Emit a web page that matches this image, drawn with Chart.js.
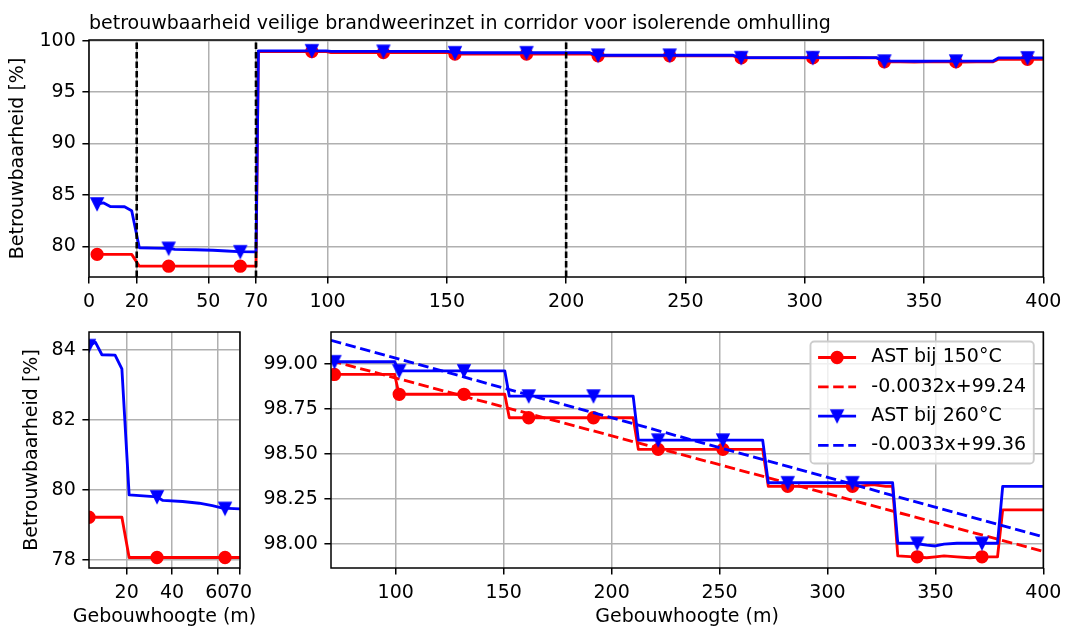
<!DOCTYPE html>
<html lang="nl">
<head>
<meta charset="utf-8">
<title>Betrouwbaarheid brandweerinzet</title>
<script src="https://cdn.jsdelivr.net/npm/chart.js@4.4.1/dist/chart.umd.min.js"></script>
<style>
  html, body { margin: 0; padding: 0; background: #fff; }
  #figuur { position: relative; width: 1068px; height: 628px; overflow: hidden; }
  #figuur canvas { position: absolute; }
</style>
</head>
<body>
<div id="figuur">
  <canvas id="overzicht" width="1068" height="320" style="left:0px;top:0px"></canvas>
  <canvas id="laagbouw" width="270" height="318" style="left:0px;top:310px"></canvas>
  <canvas id="hoogbouw" width="818" height="318" style="left:250px;top:310px"></canvas>
</div>
<script>
// Betrouwbaarheid (%) per gebouwhoogte (m), tot 70 m
const hoogteLaag = [3.4, 6.2, 9.1, 14.9, 17.9, 21.1, 27.3, 33.4, 36.0, 44.7, 52.0, 57.8, 62.3, 70.0];
const ast150Laag = [79.22, 79.22, 79.22, 79.22, 79.22, 78.07, 78.07, 78.07, 78.07, 78.07, 78.07, 78.07, 78.07, 78.07];
const ast260Laag = [84.12, 84.22, 83.86, 83.85, 83.46, 79.86, 79.83, 79.80, 79.70, 79.67, 79.62, 79.55, 79.48, 79.46];

// vanaf 70 m
const hoogteHoog = [71.0, 99.5, 101.5, 150.5, 152.6, 210.0, 212.4, 270.0, 272.6, 314.0, 321.0, 327.0, 330.2, 332.6,
                    340.0, 346.0, 350.0, 354.0, 360.0, 366.0, 372.0, 378.8, 381.2, 400.0];
const ast150Hoog = [98.94, 98.94, 98.83, 98.83, 98.70, 98.70, 98.525, 98.525, 98.32, 98.32, 98.33, 98.32, 98.32, 97.935,
                    97.93, 97.925, 97.93, 97.935, 97.93, 97.925, 97.93, 97.93, 98.19, 98.19];
const ast260Hoog = [99.01, 99.01, 98.96, 98.96, 98.82, 98.82, 98.576, 98.576, 98.34, 98.34, 98.34, 98.34, 98.34, 98.005,
                    98.005, 97.995, 97.99, 98.0, 98.005, 98.005, 98.005, 98.005, 98.32, 98.32];

// markers om de 30 m
const markerHoogte = [3.4, 33.4, 63.4, 93.4, 123.4, 153.4, 183.4, 213.4, 243.4, 273.4, 303.4, 333.4, 363.4, 393.4];
const markerAst150 = [79.22, 78.07, 78.07, 98.94, 98.83, 98.70, 98.70, 98.525, 98.525, 98.32, 98.32, 97.935, 97.93, 98.19];
const markerAst260 = [84.12, 79.80, 79.47, 99.01, 98.96, 98.82, 98.82, 98.576, 98.576, 98.34, 98.34, 98.005, 98.005, 98.32];
const markerHoogteDetail = [71.6, 101.6, 131.6, 161.6, 191.6, 221.6, 251.6, 281.6, 311.6, 341.6, 371.6];
const markerAst150Detail = [98.94, 98.83, 98.83, 98.70, 98.70, 98.525, 98.525, 98.32, 98.32, 97.93, 97.93];
const markerAst260Detail = [99.01, 98.96, 98.96, 98.82, 98.82, 98.576, 98.576, 98.34, 98.34, 98.005, 98.005];

// lineaire trend vanaf 70 m: [150°C, 260°C]
const trendHelling = [-0.0032, -0.0033];
const trendSnijpunt = [99.24, 99.36];
const trendBereik = [70, 400];

// grenzen gebouwhoogte
const grenzen = [20, 70, 200];

const ticksOverzichtX = [0, 20, 50, 70, 100, 150, 200, 250, 300, 350, 400];
const ticksOverzichtY = [80, 85, 90, 95, 100];
const ticksLaagX = [20, 40, 60, 70];
const ticksLaagY = [78, 80, 82, 84];
const ticksHoogX = [100, 150, 200, 250, 300, 350, 400];
const ticksHoogY = [98.00, 98.25, 98.50, 98.75, 99.00];

const titel = 'betrouwbaarheid veilige brandweerinzet in corridor voor isolerende omhulling';
const xTitel = 'Gebouwhoogte (m)';
const yTitel = 'Betrouwbaarheid [%]';

const ROOD = '#ff0000';
const BLAUW = '#0000ff';
const FONT = "'DejaVu Sans', sans-serif";
const FS = 19;
const LW = 2.85;

function punten(xs, ys) {
  return xs.map((x, i) => ({ x: x, y: ys[i] }));
}

// driehoek met de punt naar beneden
function driehoek(kleur) {
  const c = document.createElement('canvas');
  c.width = 18; c.height = 18;
  const ctx = c.getContext('2d');
  const m = 9, h = 5.7;
  ctx.beginPath();
  ctx.moveTo(m - h, m - h);
  ctx.lineTo(m + h, m - h);
  ctx.lineTo(m, m + h);
  ctx.closePath();
  ctx.fillStyle = kleur;
  ctx.fill();
  ctx.lineWidth = 1.9;
  ctx.strokeStyle = kleur;
  ctx.stroke();
  return c;
}
const driehoekBlauw = driehoek(BLAUW);

function trendLabel(i) {
  return trendHelling[i] + 'x+' + trendSnijpunt[i];
}

function trendPunten(i) {
  return trendBereik.map(x => ({ x: x, y: trendHelling[i] * x + trendSnijpunt[i] }));
}

function lijn(data, kleur, volgorde, label) {
  return {
    label: label, data: data, borderColor: kleur, backgroundColor: kleur, borderWidth: LW,
    borderJoinStyle: 'round', borderCapStyle: 'square', pointRadius: 0, pointHoverRadius: 0,
    fill: false, tension: 0, clip: 0, order: volgorde, legendaMarker: label ? (kleur === ROOD ? 'circle' : driehoekBlauw) : null
  };
}

function markers(data, kleur, stijl, volgorde) {
  return {
    data: data, showLine: false, borderColor: kleur, backgroundColor: kleur, pointStyle: stijl,
    pointRadius: 5.7, pointHoverRadius: 5.7, pointBorderWidth: 1.9, clip: 0, order: volgorde
  };
}

function trend(i, kleur, volgorde) {
  return {
    label: trendLabel(i), data: trendPunten(i), borderColor: kleur, backgroundColor: kleur, borderWidth: LW,
    borderDash: [10.5, 4.6], pointRadius: 0, pointHoverRadius: 0, fill: false, tension: 0, clip: 0, order: volgorde
  };
}

function as(min, max, waarden, formaat, maat, tekst) {
  return {
    type: 'linear', min: min, max: max,
    afterBuildTicks: s => { s.ticks = waarden.map(v => ({ value: v })); },
    afterFit: s => { if (s.isHorizontal()) s.height = maat; else s.width = maat; },
    grid: { color: '#b0b0b0', lineWidth: 1.5, tickColor: '#000', tickWidth: 1.5, tickLength: 6.6, drawTicks: true },
    border: { display: false },
    ticks: {
      color: '#000', font: { family: FONT, size: FS }, padding: 6.6, autoSkip: false,
      maxRotation: 0, minRotation: 0, callback: formaat || (v => String(v))
    },
    title: tekst
      ? { display: true, text: tekst, color: '#000', font: { family: FONT, size: FS }, padding: { top: 7, bottom: 0 } }
      : { display: false }
  };
}

function opties(padding, x, y) {
  return {
    responsive: false, animation: false, devicePixelRatio: 1, events: [],
    layout: { padding: padding },
    plugins: { legend: { display: false }, tooltip: { enabled: false } },
    scales: { x: x, y: y }
  };
}

// zwart kader rond het plotgebied
const kader = {
  id: 'kader',
  afterDatasetsDraw(chart) {
    const { ctx, chartArea: a } = chart;
    ctx.save();
    ctx.strokeStyle = '#000';
    ctx.lineWidth = 1.5;
    ctx.strokeRect(a.left, a.top, a.right - a.left, a.bottom - a.top);
    ctx.restore();
  }
};

// verticale stippellijnen op de hoogtegrenzen
const grenslijnen = {
  id: 'grenslijnen',
  afterDatasetsDraw(chart) {
    const { ctx, chartArea: a, scales: { x } } = chart;
    ctx.save();
    ctx.strokeStyle = '#000';
    ctx.lineWidth = 2.6;
    ctx.setLineDash([6.5, 3]);
    grenzen.forEach(g => {
      const px = x.getPixelForValue(g);
      ctx.beginPath();
      ctx.moveTo(px, a.bottom);
      ctx.lineTo(px, a.top);
      ctx.stroke();
    });
    ctx.restore();
  }
};

const kop = {
  id: 'kop',
  afterDraw(chart) {
    const { ctx, chartArea: a } = chart;
    ctx.save();
    ctx.font = FS + 'px ' + FONT;
    ctx.fillStyle = '#000';
    ctx.textAlign = 'left';
    ctx.textBaseline = 'alphabetic';
    ctx.fillText(titel, a.left, a.top - 11.4);
    ctx.restore();
  }
};

// x-astitel zonder maximale breedte, gecentreerd onder het plotgebied
const asTitel = {
  id: 'asTitel',
  afterDraw(chart) {
    const { ctx, chartArea: a } = chart;
    ctx.save();
    ctx.font = FS + 'px ' + FONT;
    ctx.fillStyle = '#000';
    ctx.textAlign = 'center';
    ctx.textBaseline = 'middle';
    ctx.fillText(xTitel, (a.left + a.right) / 2, chart.height - 11.4);
    ctx.restore();
  }
};

// legenda rechtsboven in het detail
const legenda = {
  id: 'legenda',
  afterDraw(chart) {
    const { ctx, chartArea: a } = chart;
    const items = chart.data.datasets.filter(d => d.label);
    ctx.save();
    ctx.font = FS + 'px ' + FONT;
    const tekstBreedte = Math.max.apply(null, items.map(d => ctx.measureText(d.label).width));
    const pad = 0.4 * FS, hl = 2 * FS, htp = 0.8 * FS, rij = 29.3;
    const breedte = pad + hl + htp + tekstBreedte + pad;
    const hoogte = 122;
    const rechts = a.right - 0.5 * FS;
    const boven = a.top + 0.5 * FS;
    const links = rechts - breedte;

    ctx.beginPath();
    ctx.roundRect(links, boven, breedte, hoogte, 0.2 * FS);
    ctx.fillStyle = 'rgba(255,255,255,0.8)';
    ctx.fill();
    ctx.strokeStyle = '#cccccc';
    ctx.lineWidth = 1.9;
    ctx.stroke();

    items.forEach((d, i) => {
      const y = boven + 16 + i * rij;
      ctx.strokeStyle = d.borderColor;
      ctx.lineWidth = LW;
      ctx.setLineDash(d.borderDash || []);
      ctx.beginPath();
      ctx.moveTo(links + pad, y);
      ctx.lineTo(links + pad + hl, y);
      ctx.stroke();
      ctx.setLineDash([]);
      const mx = links + pad + hl / 2;
      if (d.legendaMarker === 'circle') {
        ctx.beginPath();
        ctx.arc(mx, y, 5.7, 0, Math.PI * 2);
        ctx.fillStyle = d.borderColor;
        ctx.fill();
        ctx.lineWidth = 1.9;
        ctx.stroke();
      } else if (d.legendaMarker) {
        const img = d.legendaMarker;
        ctx.drawImage(img, mx - img.width / 2, y - img.height / 2);
      }
      ctx.fillStyle = '#000';
      ctx.textAlign = 'left';
      ctx.textBaseline = 'middle';
      ctx.fillText(d.label, links + pad + hl + htp, y);
    });
    ctx.restore();
  }
};

// overzicht 0 - 400 m
new Chart(document.getElementById('overzicht'), {
  type: 'line',
  data: {
    datasets: [
      lijn(punten(hoogteLaag.concat(hoogteHoog), ast150Laag.concat(ast150Hoog)), ROOD, 3),
      markers(punten(markerHoogte, markerAst150), ROOD, 'circle', 2),
      lijn(punten(hoogteLaag.concat(hoogteHoog), ast260Laag.concat(ast260Hoog)), BLAUW, 1),
      markers(punten(markerHoogte, markerAst260), BLAUW, driehoekBlauw, 0)
    ]
  },
  options: opties(
    { left: 0, top: 40, right: 20, bottom: 0 },
    as(0, 400, ticksOverzichtX, null, 43),
    as(77.02, 100.06, ticksOverzichtY, null, 89, yTitel)
  ),
  plugins: [grenslijnen, kader, kop]
});

// detail tot 70 m
new Chart(document.getElementById('laagbouw'), {
  type: 'line',
  data: {
    datasets: [
      lijn(punten(hoogteLaag, ast150Laag), ROOD, 3),
      markers(punten(markerHoogte, markerAst150), ROOD, 'circle', 2),
      lijn(punten(hoogteLaag, ast260Laag), BLAUW, 1),
      markers(punten(markerHoogte, markerAst260), BLAUW, driehoekBlauw, 0)
    ]
  },
  options: opties(
    { left: 13.6, top: 22, right: 30, bottom: 0 },
    as(3.4, 70, ticksLaagX, null, 60),
    as(77.77, 84.51, ticksLaagY, null, 75.4, yTitel)
  ),
  plugins: [kader, asTitel]
});

// detail vanaf 70 m met trendlijnen
new Chart(document.getElementById('hoogbouw'), {
  type: 'line',
  data: {
    datasets: [
      lijn(punten(hoogteHoog, ast150Hoog), ROOD, 5, 'AST bij 150°C'),
      trend(0, ROOD, 3),
      lijn(punten(hoogteHoog, ast260Hoog), BLAUW, 2, 'AST bij 260°C'),
      trend(1, BLAUW, 0),
      markers(punten(markerHoogteDetail, markerAst150Detail), ROOD, 'circle', 4),
      markers(punten(markerHoogteDetail, markerAst260Detail), BLAUW, driehoekBlauw, 1)
    ]
  },
  options: opties(
    { left: 0, top: 22, right: 20, bottom: 0 },
    as(70, 400, ticksHoogX, null, 60),
    as(97.868, 99.175, ticksHoogY, v => v.toFixed(2), 81)
  ),
  plugins: [kader, legenda, asTitel]
});
</script>
</body>
</html>
